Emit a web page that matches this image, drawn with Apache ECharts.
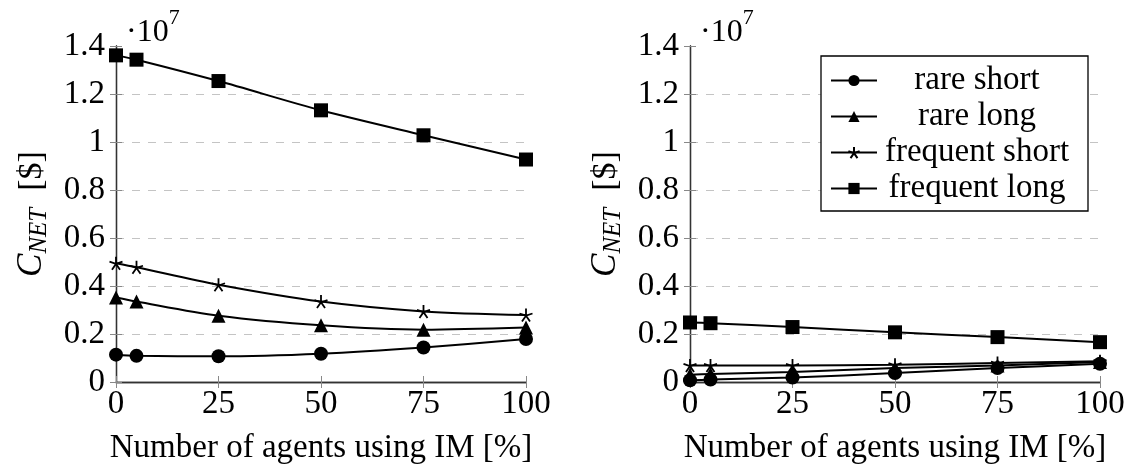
<!DOCTYPE html>
<html>
<head>
<meta charset="utf-8">
<script src="https://cdn.jsdelivr.net/npm/echarts@6/dist/echarts.min.js"></script>
<style>
  html, body { margin: 0; padding: 0; background: #fff; }
  #chart { width: 1129px; height: 470px; }
</style>
</head>
<body>
<div id="chart"></div>
<script>
  // x: Number of agents using IM [%]
  var agents = [0, 5, 25, 50, 75, 100];
  var xTicks = [0, 25, 50, 75, 100];
  var yTicks = [0, 0.2, 0.4, 0.6, 0.8, 1, 1.2, 1.4];   // in 10^7 $
  var names = ['rare short', 'rare long', 'frequent short', 'frequent long'];

  // left plot, C_NET in 10^7 $
  var leftRareShort     = [0.114, 0.109, 0.107, 0.118, 0.144, 0.179];
  var leftRareLong      = [0.352, 0.335, 0.276, 0.236, 0.218, 0.227];
  var leftFreqShort     = [0.495, 0.478, 0.405, 0.335, 0.294, 0.279];
  var leftFreqLong      = [1.361, 1.343, 1.254, 1.132, 1.028, 0.927];

  // right plot, C_NET in 10^7 $
  var rightRareShort    = [0.007, 0.010, 0.019, 0.037, 0.058, 0.076];
  var rightRareLong     = [0.030, 0.033, 0.042, 0.058, 0.069, 0.083];
  var rightFreqShort    = [0.069, 0.069, 0.069, 0.072, 0.079, 0.086];
  var rightFreqLong     = [0.248, 0.245, 0.229, 0.207, 0.187, 0.166];

  var font = '"Liberation Serif", "DejaVu Serif", serif';
  var starPath = 'path://M0,0L0,-10M0,0L9.51,-3.09M0,0L5.88,8.09M0,0L-5.88,8.09M0,0L-9.51,-3.09';
  var symbols = ['circle', 'triangle', starPath, 'rect'];
  var sizes = [14, 14, 13, 14];

  function pairs(vals) {
    return vals.map(function (v, i) { return [agents[i], v]; });
  }

  var frameLine = { show: true, lineStyle: { color: '#333', width: 1.3 } };
  var innerTick = { show: true, inside: true, length: 6, lineStyle: { color: '#888', width: 1 } };

  function xAxes(grid) {
    return [{
      type: 'value', gridIndex: grid, min: 0, max: 100, interval: 25, position: 'bottom',
      axisLine: frameLine, axisTick: innerTick, splitLine: { show: false },
      axisLabel: { color: '#000', fontFamily: font, fontSize: 33, margin: 6 },
      name: 'Number of agents using IM [%]', nameLocation: 'middle', nameGap: 50,
      nameTextStyle: { color: '#000', fontFamily: font, fontSize: 33 }
    }, {
      type: 'value', gridIndex: grid, min: 0, max: 100, interval: 25, position: 'top',
      axisLine: frameLine, axisTick: innerTick, axisLabel: { show: false }, splitLine: { show: false }
    }];
  }

  function yAxes(grid) {
    return [{
      type: 'value', gridIndex: grid, min: 0, max: 1.4, interval: 0.2, position: 'left',
      axisLine: frameLine, axisTick: innerTick,
      splitLine: { show: true, showMinLine: false, showMaxLine: false,
        lineStyle: { color: '#c4c4c4', type: [8, 8], width: 1 } },
      axisLabel: { color: '#000', fontFamily: font, fontSize: 33, margin: 11 },
      name: '{c|C}{s|NET}{r|  [$]}', nameLocation: 'middle', nameGap: 64,
      nameTextStyle: {
        rich: {
          c: { fontFamily: font, fontStyle: 'italic', fontSize: 35, color: '#000', lineHeight: 40, verticalAlign: 'middle' },
          s: { fontFamily: font, fontStyle: 'italic', fontSize: 25, color: '#000', lineHeight: 26, verticalAlign: 'bottom' },
          r: { fontFamily: font, fontSize: 34, color: '#000', lineHeight: 40, verticalAlign: 'middle' }
        }
      }
    }, {
      type: 'value', gridIndex: grid, min: 0, max: 1.4, interval: 0.2, position: 'right',
      axisLine: frameLine, axisTick: innerTick, axisLabel: { show: false }, splitLine: { show: false }
    }];
  }

  function makeSeries(sets, xi, yi) {
    return sets.map(function (vals, k) {
      var star = k === 2;
      return {
        name: names[k], type: 'line', xAxisIndex: xi, yAxisIndex: yi,
        data: pairs(vals), smooth: 0.3,
        symbol: symbols[k], symbolSize: sizes[k],
        lineStyle: { color: '#000', width: 2 },
        itemStyle: star ? { color: '#000', borderColor: '#000', borderWidth: 1.8 } : { color: '#000', borderWidth: 0 },
        emphasis: { disabled: true },
        z: 3
      };
    });
  }

  var chart = echarts.init(document.getElementById('chart'), null, { renderer: 'canvas' });
  var option = {
    animation: false,
    textStyle: { fontFamily: font },
    grid: [
      { left: 116, top: 46, width: 410, height: 336 },
      { left: 690, top: 46, width: 410, height: 336 }
    ],
    xAxis: xAxes(0).concat(xAxes(1)),
    yAxis: yAxes(0).concat(yAxes(1)),
    legend: {
      data: names, orient: 'vertical', left: 821, top: 56,
      padding: [8, 16, 6, 9], itemGap: 3,
      itemWidth: 46, itemHeight: 14,
      borderColor: '#000', borderWidth: 1.3, backgroundColor: '#fff',
      formatter: function (n) { return '{a|' + n + '}'; },
      textStyle: {
        rich: { a: { width: 190, align: 'center', fontFamily: font, fontSize: 33, lineHeight: 34, color: '#000' } }
      },
      selectedMode: false
    },
    graphic: [0, 574].map(function (dx) {
      return {
        type: 'text', left: 126 + dx, top: 7,
        style: {
          text: '{a|·10}{b|7}',
          rich: {
            a: { fontFamily: font, fontSize: 32, color: '#000', lineHeight: 42, verticalAlign: 'bottom' },
            b: { fontFamily: font, fontSize: 22, color: '#000', lineHeight: 42, verticalAlign: 'top' }
          }
        }
      };
    }),
    series: makeSeries([leftRareShort, leftRareLong, leftFreqShort, leftFreqLong], 0, 0)
      .concat(makeSeries([rightRareShort, rightRareLong, rightFreqShort, rightFreqLong], 2, 2))
  };
  chart.setOption(option);
</script>
</body>
</html>
